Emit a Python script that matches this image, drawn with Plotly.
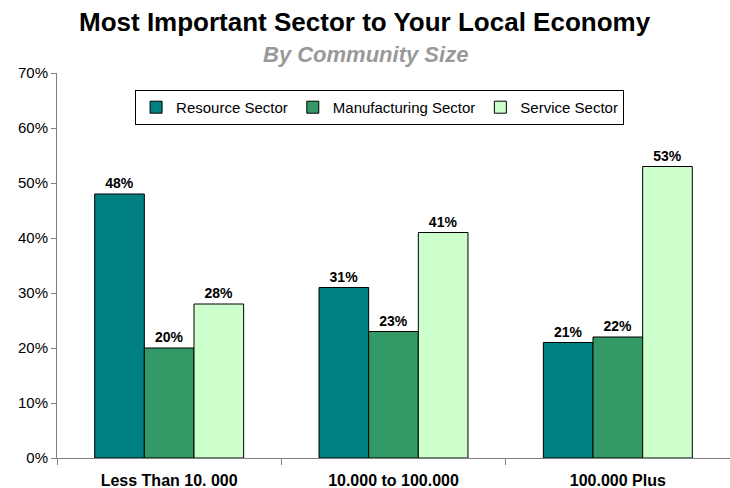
import plotly.graph_objects as go

# Survey results: share naming each sector as most important, by community size
categories = ["Less Than 10. 000", "10.000 to 100.000", "100.000 Plus"]
series_names = ["Resource Sector", "Manufacturing Sector", "Service Sector"]
resource = [48, 31, 21]
manufacturing = [20, 23, 22]
service = [28, 41, 53]
colors = ["#008080", "#339966", "#CCFFCC"]
y_ticks = [0, 10, 20, 30, 40, 50, 60, 70]

FONT = "Liberation Sans, Arial, sans-serif"

fig = go.Figure()
for name, vals, col in zip(series_names, [resource, manufacturing, service], colors):
    fig.add_trace(go.Bar(
        name=name,
        x=categories,
        y=vals,
        marker=dict(color=col, line=dict(color="#000000", width=1)),
        text=[f"{v}%" for v in vals],
        textposition="outside",
        textfont=dict(family=FONT, size=14, color="#000000", weight="bold"),
        cliponaxis=False,
    ))

fig.update_layout(
    width=730, height=488,
    margin=dict(l=57, r=0, t=73, b=30),
    paper_bgcolor="white", plot_bgcolor="white",
    barmode="group",
    bargap=0.336, bargroupgap=0,
    font=dict(family=FONT, size=15, color="#000000"),
    showlegend=True,
    legend=dict(
        orientation="h",
        x=0.116, y=0.956, xanchor="left", yanchor="top",
        bordercolor="#000000", borderwidth=1,
        bgcolor="white",
        font=dict(family=FONT, size=15, color="#000000"),
        itemwidth=30,
        traceorder="normal",
    ),
    annotations=[
        dict(text="<b>Most Important Sector to Your Local Economy</b>",
             xref="paper", yref="paper", showarrow=False,
             font=dict(family=FONT, size=26, color="#000000")),
        dict(text="<b><i>By Community Size</i></b>",
             xref="paper", yref="paper", showarrow=False,
             font=dict(family=FONT, size=22, color="#999999")),
    ],
)

# place title annotations in pixel terms relative to the plot area
plot_h = 488 - 73 - 30
for ann, ypx in zip(fig.layout.annotations, [22, 55]):
    ann.y = (488 - 30 - ypx) / plot_h
    ann.yanchor = "middle"
    ann.x = (365 - 57) / 673

fig.update_yaxes(
    range=[0, 70],
    tickvals=y_ticks,
    ticktext=[f"{v}%" for v in y_ticks],
    ticks="outside", ticklen=5, tickcolor="#808080",
    showline=True, linecolor="#808080", linewidth=1,
    showgrid=False, zeroline=False,
    tickfont=dict(family=FONT, size=15, color="#000000"),
)
fig.update_xaxes(
    showline=True, linecolor="#808080", linewidth=1,
    ticks="outside", ticklen=6, tickcolor="#808080",
    tickson="boundaries",
    ticklabelstandoff=8,
    showgrid=False,
    tickfont=dict(family=FONT, size=16, color="#000000", weight="bold"),
)

fig.write_html("out.html")
